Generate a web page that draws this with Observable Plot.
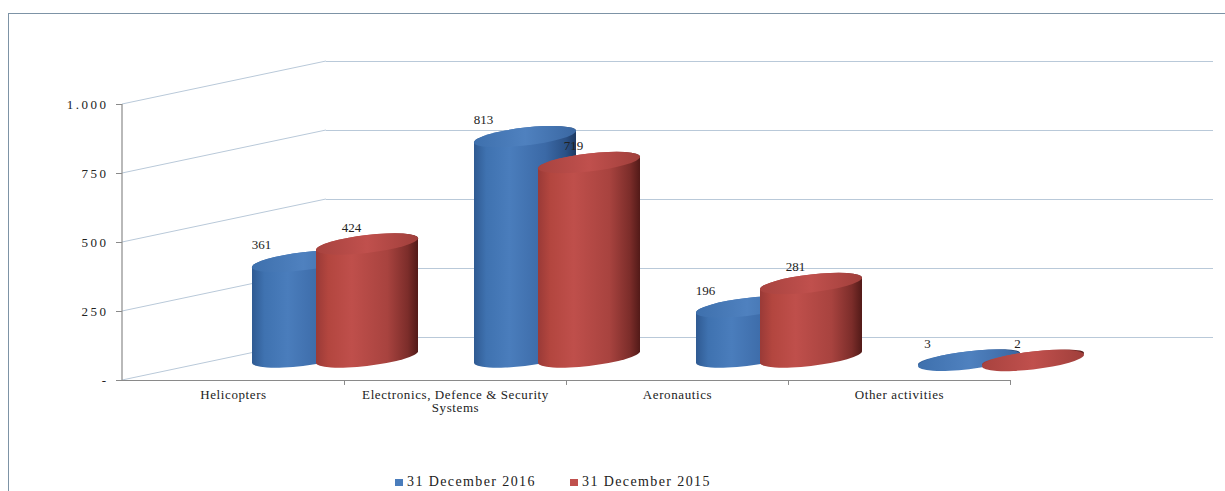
<!DOCTYPE html>
<html><head><meta charset="utf-8">
<script src="https://cdn.jsdelivr.net/npm/d3@7"></script>
<script src="https://cdn.jsdelivr.net/npm/@observablehq/plot@0.6"></script>
<style>
html,body{margin:0;padding:0;background:#fff;overflow:hidden;}
#wrap{position:relative;width:1225px;height:491px;overflow:hidden;}
#frame{position:absolute;left:8px;top:13px;width:1300px;height:600px;border:1px solid #7d93a6;background:#fff;}
#chart{position:absolute;left:0;top:0;}
#chart svg text{font-family:"Liberation Serif","Times New Roman",serif !important;}
#legend{position:absolute;left:0;top:474px;width:1225px;height:17px;font-family:"Liberation Serif",serif;font-size:14px;color:#222;letter-spacing:1.4px;}
.item{position:absolute;top:0;display:flex;align-items:center;white-space:nowrap;}
.sw{width:8px;height:7px;margin-right:4px;}
</style></head>
<body><div id="wrap"><div id="frame"></div><div id="chart"></div><div id="legend"></div></div>
<script>
const categories = ["Helicopters", "Electronics, Defence & Security Systems", "Aeronautics", "Other activities"];
const categoryLabels = ["Helicopters", "Electronics, Defence & Security\nSystems", "Aeronautics", "Other activities"];
const series = ["31 December 2016", "31 December 2015"];
const values2016 = [361, 813, 196, 3];
const values2015 = [424, 719, 281, 2];
const yTicks = [0, 250, 500, 750, 1000];
const yTickLabels = ["-", "250", "500", "750", "1.000"];

const rows2016 = categories.map((c, i) => ({category: c, series: series[0], value: values2016[i]}));
const rows2015 = categories.map((c, i) => ({category: c, series: series[1], value: values2015[i]}));

const W = 1225, H = 465;
const gridColor = "#b9c9d9", axisColor = "#8a8a8a";
const depthX = 204, depthY = 43;

// 3D wall diagonals + y axis line, drawn with the plot's y scale
const wall = (index, scales, values, dimensions) => {
  const g = d3.create("svg:g").attr("fill", "none");
  const x0 = dimensions.marginLeft;
  for (const t of yTicks) {
    const y = scales.y(t);
    g.append("line").attr("stroke", gridColor)
      .attr("x1", x0).attr("y1", y).attr("x2", x0 + depthX).attr("y2", y - depthY);
  }
  g.append("line").attr("stroke", axisColor).attr("stroke-width", 1.2)
    .attr("x1", x0).attr("x2", x0).attr("y1", scales.y(0)).attr("y2", scales.y(1000));
  return g.node();
};

const bodyOpts = {x: "category", y1: 0, y2: "value", insetLeft: 60, insetRight: 60, insetTop: -9, insetBottom: -5, rx: 60, ry: 9, dy: -19};
const capOpts = {x: "category", y1: "value", y2: "value", insetLeft: 60, insetRight: 60, insetTop: -9, insetBottom: -9, rx: 60, ry: 9, dy: -19};

const plot = Plot.plot({
  width: W, height: H,
  marginLeft: 122, marginRight: 215, marginTop: 104, marginBottom: H - 380,
  style: {background: "transparent", fontFamily: "'Liberation Serif', serif", fontSize: "13px", color: "#222", overflow: "visible"},
  x: {type: "band", domain: categories, padding: 0, axis: null, label: null},
  y: {domain: [0, 1000], axis: null, label: null},
  marks: [
    Plot.ruleY(yTicks, {y: d => d, dy: -depthY, insetLeft: depthX, insetRight: -203, stroke: gridColor}),
    wall,
    Plot.ruleY([0], {stroke: axisColor, strokeWidth: 1.2}),
    Plot.ruleX(categories, {x: d => d, dx: 111, y1: 0, y2: -18, stroke: axisColor}),
    Plot.axisY({ticks: yTicks, label: null, tickFormat: d => yTickLabels[yTicks.indexOf(d)], tickSize: 6, tickPadding: 8, stroke: axisColor, fill: "#222"}),
    Plot.axisX({label: null, tickSize: 0, tickPadding: 9, tickFormat: d => categoryLabels[categories.indexOf(d)], fill: "#222", lineHeight: 1}),
    Plot.barY(rows2016, {...bodyOpts, dx: 70, fill: "url(#gBlue)", ariaDescription: "cyl-blue-body"}),
    Plot.barY(rows2016, {...capOpts, dx: 70, fill: "url(#gBlueCap)", ariaDescription: "cyl-blue-cap"}),
    Plot.barY(rows2015, {...bodyOpts, dx: 134, fill: "url(#gRed)", ariaDescription: "cyl-red-body"}),
    Plot.barY(rows2015, {...capOpts, dx: 134, fill: "url(#gRedCap)", ariaDescription: "cyl-red-cap"}),
    Plot.text(rows2016, {x: "category", y: "value", text: d => String(d.value), dx: 28, dy: -36, fill: "#222", fontSize: 13}),
    Plot.text(rows2015, {x: "category", y: "value", text: d => String(d.value), dx: 118, dy: -36, fill: "#222", fontSize: 13})
  ]
});

const svg = d3.select(plot);
const defs = svg.insert("defs", ":first-child");
function grad(id, stops) {
  const lg = defs.append("linearGradient").attr("id", id).attr("x1", "0").attr("x2", "1").attr("y1", "0").attr("y2", "0");
  stops.forEach(([o, c]) => lg.append("stop").attr("offset", o).attr("stop-color", c));
}
grad("gBlue", [[0, "#2f5a92"], [0.12, "#3f72b0"], [0.35, "#4a7dbc"], [0.7, "#3b69a6"], [0.9, "#2b5186"], [1, "#1e3a62"]]);
grad("gBlueCap", [[0, "#3e70ad"], [0.5, "#4f81bf"], [1, "#3a67a2"]]);
grad("gRed", [[0, "#9a3a37"], [0.12, "#b3463f"], [0.35, "#bf4f4b"], [0.7, "#a8433f"], [0.9, "#7c2d2a"], [1, "#521a18"]]);
grad("gRedCap", [[0, "#a8433f"], [0.5, "#c0504d"], [1, "#a03f3b"]]);

// tilt each cylinder to mimic the 3D perspective
svg.selectAll('g[aria-description^="cyl"] rect').each(function() {
  const r = d3.select(this);
  const cx = +r.attr("x") + +r.attr("width") / 2;
  r.attr("transform", `translate(${cx},0) skewY(-6.5) translate(${-cx},0)`);
});
svg.selectAll('g[aria-label="y-axis tick label"] text').style("letter-spacing", "2.5px");
svg.selectAll('g[aria-label="x-axis tick label"] text').style("letter-spacing", "0.6px");

document.getElementById("chart").appendChild(plot);

const legend = d3.select("#legend");
const colors = ["#4a7dbc", "#c0504d"];
const lx = [395, 570];
series.forEach((s, i) => {
  const it = legend.append("div").attr("class", "item").style("left", lx[i] + "px");
  it.append("div").attr("class", "sw").style("background", colors[i]);
  it.append("span").text(s);
});
</script>
</body></html>
